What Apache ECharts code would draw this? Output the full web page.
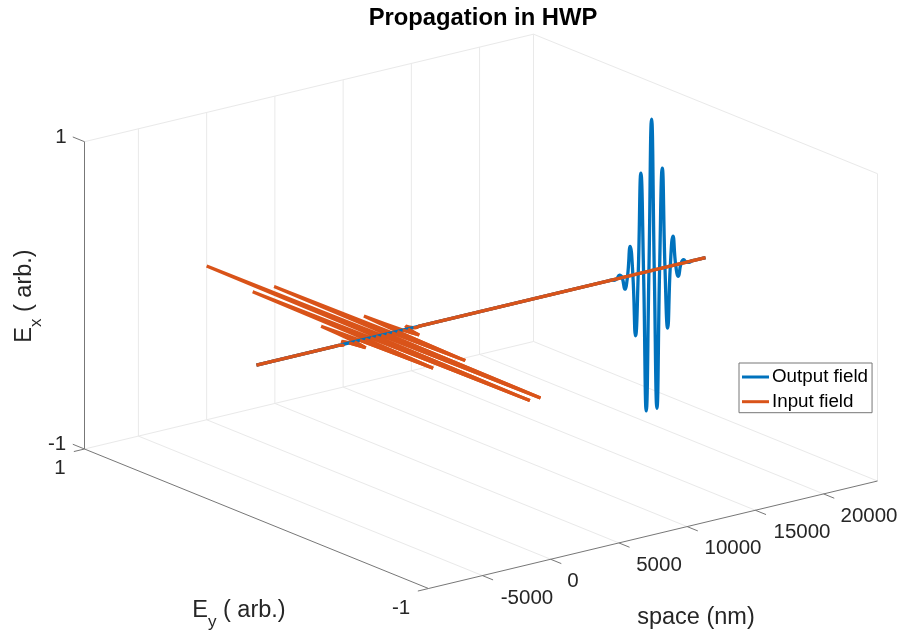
<!DOCTYPE html>
<html>
<head>
<meta charset="utf-8">
<title>Propagation in HWP</title>
<script src="https://cdn.jsdelivr.net/npm/echarts@6/dist/echarts.min.js"></script>
<style>
  html, body { margin: 0; padding: 0; background: #fff; }
  #chart { width: 903px; height: 637px; }
</style>
</head>
<body>
<div id="chart"></div>
<script>
  // axis limits and ticks
  const spaceMin = -8950
  const spaceMax = 23950
  const spaceTicks = [-5000, 0, 5000, 10000, 15000, 20000]
  const fieldTicks = [-1, 1]

  // output field: Ex along space, peaks and zero crossings around 20000 nm
  const outputSpace = [-8950, 16864, 17060, 17256, 17452, 17648, 17844, 18040, 18236, 18432, 18628, 18824, 19020, 19216, 19412, 19608, 19804, 20000, 20196, 20392, 20588, 20784, 20980, 21176, 21372, 21568, 21764, 21960, 22156, 22352, 22548, 22744, 22940, 23136, 23950]
  const outputEx = [0, 0, 0, -0.005, 0, 0.02, 0, -0.08, 0, 0.19, 0, -0.40, 0, 0.65, 0, -0.905, 0, 0.985, 0, -0.905, 0, 0.65, 0, -0.40, 0, 0.19, 0, -0.08, 0, 0.02, 0, -0.005, 0, 0, 0]
  // input field: Ey along space, same pulse around 0 nm
  const inputSpace = [-8950, -3136, -2940, -2744, -2548, -2352, -2156, -1960, -1764, -1568, -1372, -1176, -980, -784, -588, -392, -196, 0, 196, 392, 588, 784, 980, 1176, 1372, 1568, 1764, 1960, 2156, 2352, 2548, 2744, 2940, 3136, 23950]
  const inputEy = [0, 0, 0, -0.006, 0, 0.03, 0, -0.08, 0, 0.21, 0, -0.41, 0, 0.67, 0, -0.91, 0, 1.0, 0, -0.91, 0, 0.67, 0, -0.41, 0, 0.21, 0, -0.08, 0, 0.03, 0, -0.006, 0, 0, 0]

  // oblique view of the box, in pixels of the page
  function project(space, ey, ex) {
    let t = (space - spaceMin) / (spaceMax - spaceMin)
    return [
      428.5 + t * 449 - (ey + 1) * 172,
      588.5 - t * 107.5 - (ey + 1) * 69.75 - (ex + 1) * 153.65
    ]
  }

  function edges(list) {
    let out = []
    list.forEach(function (e) {
      out.push(project(e[0], e[1], e[2]), project(e[3], e[4], e[5]), [NaN, NaN])
    })
    return out
  }

  let gridEdges = [
    [spaceMin, 1, 1, spaceMax, 1, 1],
    [spaceMin, 1, -1, spaceMax, 1, -1],
    [spaceMax, 1, 1, spaceMax, -1, 1],
    [spaceMax, 1, -1, spaceMax, -1, -1],
    [spaceMax, 1, -1, spaceMax, 1, 1],
    [spaceMax, -1, -1, spaceMax, -1, 1]
  ]
  spaceTicks.forEach(function (s) {
    gridEdges.push([s, 1, -1, s, 1, 1])
    gridEdges.push([s, 1, -1, s, -1, -1])
  })

  let axisEdges = [
    [spaceMin, -1, -1, spaceMax, -1, -1],
    [spaceMin, -1, -1, spaceMin, 1, -1],
    [spaceMin, 1, -1, spaceMin, 1, 1]
  ]
  spaceTicks.forEach(function (s) {
    axisEdges.push([s, -1, -1, s, -1.062, -1])
  })
  fieldTicks.forEach(function (v) {
    axisEdges.push([spaceMin, v, -1, spaceMin - 780, v, -1])
    axisEdges.push([spaceMin, 1, v, spaceMin, 1.068, v])
  })

  const font = '"Liberation Sans", Arial, sans-serif'
  const tickColor = '#262626'

  function tickLabel(text, x, y) {
    return {
      type: 'text', x: x, y: y, silent: true,
      style: { text: text, fontFamily: font, fontSize: 20.5, fill: tickColor, align: 'center', verticalAlign: 'middle' }
    }
  }

  const richName = {
    n: { fontFamily: font, fontSize: 23.5, fill: tickColor, lineHeight: 26, verticalAlign: 'top' },
    s: { fontFamily: font, fontSize: 17, fill: tickColor, lineHeight: 17, verticalAlign: 'top', padding: [15, 0, 0, 0] }
  }

  let labels = [
    tickLabel('1', 61, 137),
    tickLabel('-1', 57, 444),
    tickLabel('1', 60, 468),
    tickLabel('-1', 401, 608),
    tickLabel('-5000', 527, 598),
    tickLabel('0', 573, 581),
    tickLabel('5000', 659, 565),
    tickLabel('10000', 733, 548),
    tickLabel('15000', 802, 532),
    tickLabel('20000', 869, 516),
    {
      type: 'text', x: 696, y: 618, silent: true,
      style: { text: 'space (nm)', fontFamily: font, fontSize: 23.5, fill: tickColor, align: 'center', verticalAlign: 'middle' }
    },
    {
      type: 'text', x: 239, y: 612, silent: true,
      style: { text: '{n|E}{s|y}{n| ( arb.)}', rich: richName, align: 'center', verticalAlign: 'middle' }
    },
    {
      type: 'text', x: 26, y: 296, rotation: Math.PI / 2, silent: true,
      style: { text: '{n|E}{s|x}{n| ( arb.)}', rich: richName, align: 'center', verticalAlign: 'middle' }
    }
  ]

  let outputLine = outputSpace.map(function (s, i) { return project(s, 0, outputEx[i]) })
  let inputLine = inputSpace.map(function (s, i) { return project(s, inputEy[i], 0) })
  // the half of the input field nearer to the viewer passes over the output line
  let inputFront = inputSpace.map(function (s, i) {
    return inputEy[i] > 0 ? [NaN, NaN] : project(s, inputEy[i], 0)
  })

  function waveSeries(name, data, color, width) {
    return {
      name: name,
      type: 'line',
      data: data,
      smooth: 0.5,
      showSymbol: false,
      symbol: 'none',
      silent: true,
      connectNulls: false,
      lineStyle: { color: color, width: width, cap: 'butt' },
      itemStyle: { color: color }
    }
  }

  function edgeSeries(data, color) {
    return {
      type: 'line',
      data: data,
      showSymbol: false,
      symbol: 'none',
      silent: true,
      connectNulls: false,
      lineStyle: { color: color, width: 1 }
    }
  }

  let chart = echarts.init(document.getElementById('chart'))
  chart.setOption({
    animation: false,
    backgroundColor: '#fff',
    title: {
      text: 'Propagation in HWP',
      left: 478,
      top: 1,
      textAlign: 'center',
      textStyle: { fontFamily: font, fontSize: 23.8, fontWeight: 'bold', color: '#000' }
    },
    grid: { left: 0, right: 0, top: 0, bottom: 0 },
    xAxis: { type: 'value', min: 0, max: 903, show: false },
    yAxis: { type: 'value', min: 0, max: 637, inverse: true, show: false },
    legend: {
      data: [
        { name: 'Output field', icon: 'rect' },
        { name: 'Input field', icon: 'rect' }
      ],
      orient: 'vertical',
      left: 739,
      top: 363,
      padding: [3, 4, 0, 3],
      itemWidth: 27,
      itemHeight: 3,
      itemGap: 2.7,
      backgroundColor: '#fff',
      borderColor: '#777',
      borderWidth: 1,
      selectedMode: false,
      textStyle: { fontFamily: font, fontSize: 18.8, lineHeight: 22, color: '#000', padding: [0, 0, 0, -2] }
    },
    series: [
      edgeSeries(edges(gridEdges), '#e9e9e9'),
      edgeSeries(edges(axisEdges), '#777'),
      waveSeries('Input field', inputLine, '#D95319', 3.2),
      waveSeries('Output field', outputLine, '#0072BD', 3.3),
      waveSeries('Input field front', inputFront, '#D95319', 3.2)
    ],
    graphic: labels
  })
</script>
</body>
</html>
